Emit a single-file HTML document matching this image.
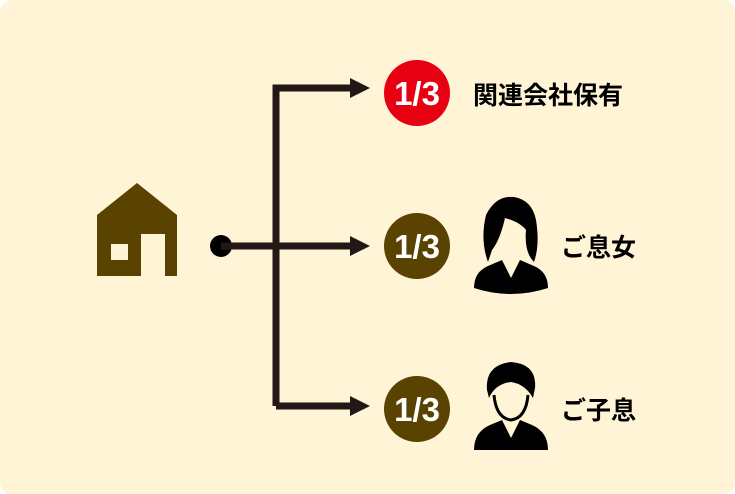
<!DOCTYPE html>
<html><head><meta charset="utf-8"><style>
body{margin:0;width:735px;height:494px;background:#fff;overflow:hidden}
.bg{position:absolute;left:0;top:0;width:735px;height:494px;background:#fff4d6;border-radius:12px}
svg{position:absolute;left:0;top:0}
text{font-family:"Liberation Sans","Noto Sans CJK JP",sans-serif;font-weight:bold}
</style></head><body><div class="bg"></div>
<svg width="735" height="494" viewBox="0 0 735 494">
<path d="M97 215 L137 183 L177 215 L177 276 L165 276 L165 234 L141 234 L141 276 L97 276 Z" fill="#5a4300"/>
<rect x="111" y="244" width="17" height="16" fill="#fff4d6"/>
<circle cx="221" cy="246" r="11" fill="#000"/>
<g stroke="#231815" stroke-width="7" fill="none">
<path d="M276 406 V88 H352"/><path d="M221 246 H352"/><path d="M276 406 H352"/>
</g>
<g fill="#231815">
<path d="M350 78 L370 88 L350 98Z"/><path d="M350 236 L370 246 L350 256Z"/><path d="M350 396 L370 406 L350 416Z"/>
</g>
<circle cx="417" cy="93" r="33" fill="#e60012"/>
<circle cx="417" cy="246" r="33" fill="#5a4300"/>
<circle cx="417" cy="409" r="33" fill="#5a4300"/>
<g fill="#fff" font-size="33" text-anchor="middle">
<text x="417" y="105">1/3</text><text x="417" y="258">1/3</text><text x="417" y="421">1/3</text>
</g>
<g fill="#000" font-size="25">
<text x="473" y="104">関連会社保有</text>
<text x="561" y="256">ご息女</text>
<text x="561" y="419">ご子息</text>
</g>
<g fill="#000">
<path d="M488 262 Q480 240 486 215 Q496 195 514 197 Q532 200 536 220 Q540 245 534 262 Q524 252 526 230 Q520 222 505 218 Q500 240 492 250 Z"/>
<path d="M474 288 Q474 272 488 266 L502 260 L511 278 L520 260 L534 266 Q548 272 548 288 Q511 300 474 288Z"/>
<path d="M487 390 Q485 365 511 362 Q537 364 535 388 L533 398 Q525 384 511 382 Q495 384 489 398Z"/>
<path d="M474 450 Q474 432 490 425 L502 420 L511 438 L520 420 L532 425 Q548 432 548 450Z"/>
<path d="M494 395 Q496 418 511 420 Q526 418 528 395" fill="none" stroke="#000" stroke-width="3"/>
</g>
</svg></body></html>
